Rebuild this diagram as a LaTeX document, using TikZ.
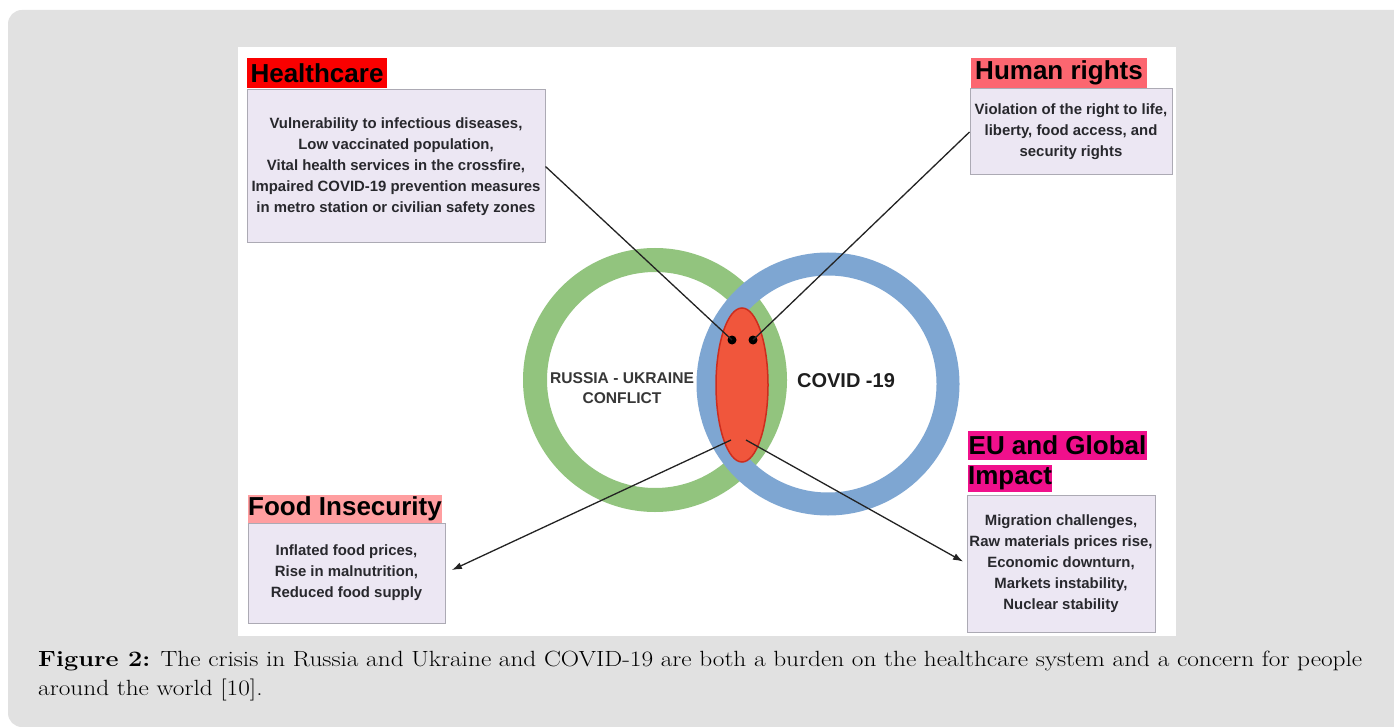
\documentclass[tikz,border=0pt]{standalone}
\usepackage{fontspec}
\usetikzlibrary{arrows.meta,shapes.geometric}
\newfontfamily\arial{Liberation Sans}
\definecolor{pagebg}{RGB}{225,225,225}
\definecolor{boxfill}{RGB}{236,231,243}
\definecolor{boxline}{RGB}{172,170,180}
\definecolor{hcred}{RGB}{250,0,0}
\definecolor{hrpink}{RGB}{252,102,112}
\definecolor{fipink}{RGB}{255,158,160}
\definecolor{eumag}{RGB}{240,16,140}
\definecolor{ringgreen}{RGB}{146,196,126}
\definecolor{ringblue}{RGB}{126,166,210}
\definecolor{ellfill}{RGB}{240,86,60}
\definecolor{ellline}{RGB}{205,45,30}
\definecolor{txt}{RGB}{40,40,45}
\definecolor{labtxt}{RGB}{55,55,55}
\newsavebox\capone
\begin{document}
\sbox\capone{\fontsize{22}{26}\selectfont\textbf{Figure 2:} The crisis in Russia and Ukraine and COVID-19 are both a burden on the healthcare system and a concern for people}
\pgfmathsetmacro\capscale{1324/\the\wd\capone}
\begin{tikzpicture}[x=1pt,y=-1pt,
  head/.style={inner sep=0pt, font=\arial\bfseries\fontsize{26}{30}\selectfont, text=black},
  infobox/.style={draw=boxline, line width=1pt, fill=boxfill, inner sep=0pt, align=center,
    text=txt, font=\arial\bfseries\fontsize{14.9}{21}\selectfont},
  conn/.style={draw={rgb,255:red,35;green,35;blue,35}, line width=1.3pt},
  arr/.style={conn, -{Latex[length=10pt,width=7pt]}},
  dot/.style={circle, fill=black, inner sep=0pt, minimum size=9pt},
  ringlabel/.style={text=labtxt, font=\arial\bfseries, align=center, inner sep=0pt}]
\useasboundingbox (0,0) rectangle (1394,727);
\fill[white] (0,0) rectangle (1394,727);
\fill[pagebg, rounded corners=14pt] (8,10) rectangle (1430,727);
\fill[white] (238,47) rectangle (1176,636);

% rings
\draw[ringgreen, line width=24pt] (655,380) circle[radius=120];
\draw[ringblue, line width=23pt] (828,384) circle[radius=120];

% central ellipse
\node[ellipse, draw=ellline, line width=1.5pt, fill=ellfill, minimum width=52pt, minimum height=154pt, inner sep=0pt] (ell) at (742,385) {};
\node[dot] (dl) at (732,340) {};
\node[dot] (dr) at (753,340) {};
\coordinate (bl) at (731,440);
\coordinate (br) at (746,440);

% ring labels
\node[ringlabel, font=\arial\bfseries\fontsize{15.6}{20}\selectfont] (ru) at (622,388) {RUSSIA - UKRAINE\\CONFLICT};
\node[ringlabel, font=\arial\bfseries\fontsize{20}{24}\selectfont, text={rgb,255:red,30;green,30;blue,30}] (cv) at (846,381) {COVID -19};

% headings
\node[head, fill=hcred, minimum width=140pt, minimum height=30pt] (hch) at (317,73) {Healthcare};
\node[head, fill=hrpink, minimum width=176pt, minimum height=30pt] (hrh) at (1059,73) {Human rights};
\node[head, fill=fipink, minimum width=194pt, minimum height=28pt] (fih) at (345,509) {Food Insecurity};
\node[head, fill=eumag, minimum width=179pt, minimum height=29pt] (euh1) at (1057.5,445.5) {EU and Global};
\node[head, fill=eumag, minimum width=84pt, minimum height=27pt] (euh2) at (1010,478.5) {Impact};

% boxes
\node[infobox, minimum width=298pt, minimum height=153pt] (hc) at (396,166.5)
  {Vulnerability to infectious diseases,\\Low vaccinated population,\\Vital health services in the crossfire,\\Impaired COVID-19 prevention measures\\in metro station or civilian safety zones};
\node[infobox, minimum width=202pt, minimum height=86pt] (hr) at (1071,132)
  {Violation of the right to life,\\liberty, food access, and\\security rights};
\node[infobox, minimum width=197pt, minimum height=100pt] (fi) at (346.5,573)
  {Inflated food prices,\\Rise in malnutrition,\\Reduced food supply};
\node[infobox, minimum width=188pt, minimum height=137pt] (eu) at (1061,563.5)
  {Migration challenges,\\Raw materials prices rise,\\Economic downturn,\\Markets instability,\\Nuclear stability};

% connectors
\draw[conn] (hc.east) -- (dl.center);
\draw[conn] (hr.west) -- (dr.center);
\draw[arr, shorten >=7pt] (bl) -- (fi.east);
\draw[arr, shorten >=4pt] (br) -- (eu.west);

% caption
\node[anchor=base west, inner sep=0pt] (cap1) at (38,666) {\scalebox{\capscale}[1]{\usebox\capone}};
\node[anchor=base west, inner sep=0pt] (cap2) at (38,695) {\scalebox{\capscale}[1]{\fontsize{22}{26}\selectfont around the world [10].}};
\end{tikzpicture}
\end{document}
